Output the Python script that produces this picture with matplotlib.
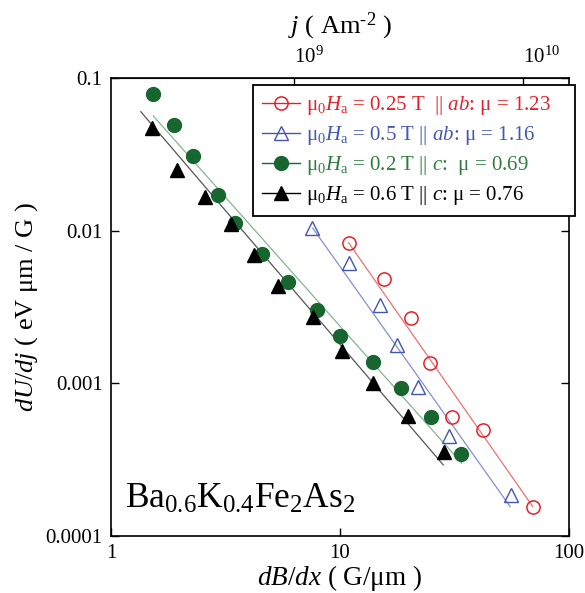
import matplotlib
matplotlib.use("Agg")
import matplotlib.pyplot as plt
from matplotlib.lines import Line2D

plt.rcParams['font.family'] = ['Liberation Serif', 'DejaVu Serif']
plt.rcParams['mathtext.fontset'] = 'custom'
plt.rcParams['mathtext.rm'] = 'Liberation Serif'
plt.rcParams['mathtext.it'] = 'Liberation Serif:italic'
plt.rcParams['mathtext.bf'] = 'Liberation Serif:bold'

# ---- data ----
red_x = [10.9, 15.5, 20.4, 24.8, 30.7, 42.0, 69.4]
red_y = [0.00834, 0.00481, 0.00267, 0.001355, 0.00060, 0.000495, 0.000156]

blue_x = [7.57, 10.95, 14.95, 17.8, 21.8, 29.9, 55.6]
blue_y = [0.0104, 0.00612, 0.00326, 0.00179, 0.000943, 0.000452, 0.000186]

green_x = [1.52, 1.88, 2.29, 2.92, 3.48, 4.55, 5.91, 7.91, 10.0, 13.9, 18.4, 24.9, 33.8]
green_y = [0.0785, 0.0494, 0.0308, 0.0170, 0.0113, 0.00704, 0.00459, 0.00303,
           0.00205, 0.00138, 0.000926, 0.00060, 0.000343]

black_x = [1.51, 1.95, 2.57, 3.34, 4.21, 5.35, 7.65, 10.2, 14.0, 19.8, 28.5]
black_y = [0.0473, 0.0250, 0.0167, 0.0110, 0.00693, 0.00434, 0.00271, 0.00164,
           0.00100, 0.000612, 0.000354]

# fit line endpoints
red_fit_x = [10.9, 69.4]
red_fit_y = [0.00834, 0.000156]
blue_fit_x = [7.6, 55.3]
blue_fit_y = [0.0104, 0.000156]
green_fit_x = [1.53, 34.0]
green_fit_y = [0.0564, 0.00030]
black_fit_x = [1.35, 28.25]
black_fit_y = [0.0601, 0.000292]

labels = [
    "μ$_0$$H_\\mathrm{a}$ = 0.25 T  || $ab$: μ = 1.23",
    "μ$_0$$H_\\mathrm{a}$ = 0.5 T || $ab$: μ = 1.16",
    "μ$_0$$H_\\mathrm{a}$ = 0.2 T || $c$:  μ = 0.69",
    "μ$_0$$H_\\mathrm{a}$ = 0.6 T || $c$: μ = 0.76",
]
j_factor = 1.5915e8  # j (A m^-2) per (G/um)

x_ticks = [1, 10, 100]
x_ticklabels = ['1', '10', '100']
y_ticks = [0.0001, 0.001, 0.01, 0.1]
y_ticklabels = ['0.0001', '0.001', '0.01', '0.1']
top_ticks = [1e9, 1e10]
top_ticklabels = ['$10^9$', '$10^{10}$']

# ---- figure ----
fig = plt.figure(figsize=(5.85, 5.93), dpi=100)
ax = fig.add_axes([111/585, 57/593, 458/585, 458/593])
ax.set_xscale('log')
ax.set_yscale('log')
ax.set_xlim(1, 100)
ax.set_ylim(0.0001, 0.1)

red_c = '#e5202a'
blue_c = '#4456b0'
green_c = '#17662f'

# fit lines
ax.plot(red_fit_x, red_fit_y, color='#f07070', lw=0.9, zorder=2)
ax.plot(blue_fit_x, blue_fit_y, color='#8190d2', lw=0.9, zorder=2)
ax.plot(green_fit_x, green_fit_y, color='#86b58f', lw=0.9, zorder=2)
ax.plot(black_fit_x, black_fit_y, color='#555555', lw=0.9, zorder=2)

# markers
ax.plot(red_x, red_y, 'o', ms=9.5, mfc='none', mec=red_c, mew=1.1, zorder=3)
ax.plot(blue_x, blue_y, '^', ms=10, mfc='none', mec=blue_c, mew=1.0, zorder=3)
ax.plot(green_x, green_y, 'o', ms=10, mfc=green_c, mec=green_c, zorder=3)
ax.plot(black_x, black_y, '^', ms=10, mfc='black', mec='black', zorder=3)

# legend
handles = [
    Line2D([], [], color=red_c, lw=1.0, marker='o', ms=9.5, mfc='none', mec=red_c, mew=1.1),
    Line2D([], [], color=blue_c, lw=1.0, marker='^', ms=10, mfc='none', mec=blue_c),
    Line2D([], [], color=green_c, lw=1.0, marker='o', ms=10, mfc=green_c, mec=green_c),
    Line2D([], [], color='black', lw=1.0, marker='^', ms=10, mfc='black', mec='black'),
]
leg = ax.legend(handles, labels, loc='upper left',
                bbox_to_anchor=(0.310, 0.6965, 0.703, 0.288), mode='expand',
                borderaxespad=0, fontsize=15, frameon=True, fancybox=False,
                edgecolor='black', framealpha=1, handlelength=1.8, handletextpad=0.3,
                labelspacing=0.33, borderpad=0.45)
leg.get_frame().set_linewidth(1.3)
leg.set_clip_on(False)
for t, c in zip(leg.get_texts(), [red_c, blue_c, '#2e7d3e', 'black']):
    t.set_color(c)

# ticks
ax.set_xticks(x_ticks)
ax.set_xticklabels(x_ticklabels)
ax.set_yticks(y_ticks)
ax.set_yticklabels(y_ticklabels)
ax.minorticks_off()
ax.tick_params(which='both', direction='in', length=6, width=1, labelsize=15,
               right=True, top=False, pad=6)
for s in ax.spines.values():
    s.set_linewidth(1.2)

ax.set_xlabel('$dB/dx$ ( G/μm )', fontsize=19.5, labelpad=0)
ax.set_ylabel('$dU/dj$ ( eV μm / G )', fontsize=19, labelpad=4)

secax = ax.secondary_xaxis('top', functions=(lambda x: x * j_factor, lambda j: j / j_factor))
secax.set_xticks(top_ticks)
secax.set_xticklabels(top_ticklabels)
secax.minorticks_off()
secax.tick_params(which='both', direction='in', length=6, width=1, labelsize=15, pad=7)
for lbl in secax.get_xticklabels():
    lbl.set_horizontalalignment('left')
secax.set_xlabel('$j$ ( Am$^{\\text{-}2}$ )', fontsize=19, labelpad=10)

ax.text(0.03, 0.061, 'Ba$_{0.6}$K$_{0.4}$Fe$_2$As$_2$', transform=ax.transAxes,
        fontsize=25.5, ha='left', va='baseline')

fig.savefig('out.png', dpi=100)
